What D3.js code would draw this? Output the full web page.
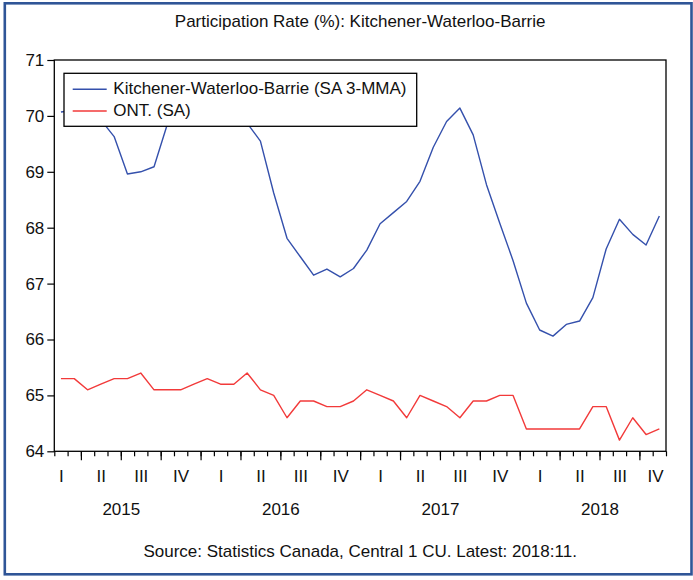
<!DOCTYPE html>
<html>
<head>
<meta charset="utf-8">
<script src="https://cdn.jsdelivr.net/npm/d3@7/dist/d3.min.js"></script>
<style>
  html, body { margin: 0; padding: 0; background: #fff; }
  svg { display: block; }
  text { font-family: "Liberation Sans", Arial, sans-serif; fill: #111; }
</style>
</head>
<body>
<svg id="chart" width="693" height="580"></svg>
<script>
// Monthly observations, February 2015 through November 2018
const firstMonth = "2015-02";
const lastMonth = "2018-11";

// Kitchener-Waterloo-Barrie participation rate, seasonally adjusted 3-month moving average (%)
const kwbRate = [
  70.07, 70.10, 70.05, 69.93, 69.63, 68.96, 69.00, 69.09, 69.85, 70.10, 70.20,
  70.25, 70.20, 70.05, 69.87, 69.55, 68.62, 67.81, 67.48, 67.15, 67.26, 67.12, 67.27,
  67.60, 68.07, 68.27, 68.47, 68.83, 69.44, 69.90, 70.14, 69.66, 68.77, 68.08, 67.41,
  66.65, 66.17, 66.06, 66.27, 66.33, 66.75, 67.62, 68.15, 67.88, 67.69, 68.21
];

// Ontario participation rate, seasonally adjusted (%)
const ontRate = [
  65.3, 65.3, 65.1, 65.2, 65.3, 65.3, 65.4, 65.1, 65.1, 65.1, 65.2,
  65.3, 65.2, 65.2, 65.4, 65.1, 65.0, 64.6, 64.9, 64.9, 64.8, 64.8, 64.9,
  65.1, 65.0, 64.9, 64.6, 65.0, 64.9, 64.8, 64.6, 64.9, 64.9, 65.0, 65.0,
  64.4, 64.4, 64.4, 64.4, 64.4, 64.8, 64.8, 64.2, 64.6, 64.3, 64.4
];

const seriesNames = ["Kitchener-Waterloo-Barrie (SA 3-MMA)", "ONT. (SA)"];
const seriesColors = ["#3450AC", "#F23A3A"];
const yTicks = [64, 65, 66, 67, 68, 69, 70, 71];
const quarterLabels = ["I", "II", "III", "IV"];
const yearLabels = [2015, 2016, 2017, 2018];
const titleText = "Participation Rate (%): Kitchener-Waterloo-Barrie";
const sourceText = "Source: Statistics Canada, Central 1 CU. Latest: 2018:11.";

const parseMonth = d3.timeParse("%Y-%m");
const months = d3.timeMonth.range(parseMonth(firstMonth), d3.timeMonth.offset(parseMonth(lastMonth), 1));

const svg = d3.select("#chart");
const FONT = 17;

// outer frame
svg.append("rect")
  .attr("x", 4.8).attr("y", 3.3).attr("width", 686.7).attr("height", 571)
  .attr("fill", "#fff").attr("stroke", "#2F5597").attr("stroke-width", 2.6);

const plot = { left: 54.3, right: 666, top: 60, bottom: 451.3 };

// month slots are evenly spaced; each observation sits in the middle of its slot
const x = d3.scaleLinear().domain([0, months.length]).range([plot.left, plot.right]);
const y = d3.scaleLinear().domain([64, 71]).range([plot.bottom, plot.top]);
const xMid = i => x(i + 0.5);

svg.append("text")
  .attr("x", (plot.left + plot.right) / 2).attr("y", 27)
  .attr("text-anchor", "middle").style("font-size", FONT + "px")
  .text(titleText);

// y axis
const yAxis = svg.append("g")
  .attr("transform", `translate(${plot.left},0)`)
  .call(d3.axisLeft(y).tickValues(yTicks).tickSize(7).tickPadding(3).tickFormat(d3.format("d")));
yAxis.select(".domain").remove();
yAxis.selectAll("line").attr("stroke", "#000").attr("stroke-width", 1.2);
yAxis.selectAll("text").style("font-size", FONT + "px").style("font-family", null).attr("fill", "#111");

// x axis: minor ticks on every month boundary, longer ones at quarter starts
const allBounds = d3.range(0, months.length + 1);
const quarterStarts = allBounds.filter(i => i < months.length && months[i].getMonth() % 3 === 0);

const xMinor = svg.append("g")
  .attr("transform", `translate(0,${plot.bottom})`)
  .call(d3.axisBottom(x).tickValues(allBounds).tickSize(5).tickFormat(""));
const xMajor = svg.append("g")
  .attr("transform", `translate(0,${plot.bottom})`)
  .call(d3.axisBottom(x).tickValues(quarterStarts).tickSize(9).tickFormat(""));
[xMinor, xMajor].forEach(g => {
  g.select(".domain").remove();
  g.selectAll("line").attr("stroke", "#000").attr("stroke-width", 1.2);
});

// quarter labels centred on the middle month of each quarter
const quarterMids = d3.range(months.length).filter(i => months[i].getMonth() % 3 === 1);
const xQuarter = svg.append("g")
  .attr("transform", `translate(0,${plot.bottom})`)
  .call(d3.axisBottom(x).tickValues(quarterMids.map(i => i + 0.5)).tickSize(0).tickPadding(18.6)
    .tickFormat(v => quarterLabels[Math.floor(months[Math.floor(v)].getMonth() / 3)]));
xQuarter.select(".domain").remove();
xQuarter.selectAll("text").style("font-size", FONT + "px").style("font-family", null).attr("fill", "#111");
// keep the last label inside the plot's right edge
xQuarter.selectAll(".tick").each(function (v) {
  const t = d3.select(this).select("text");
  const half = t.node().getComputedTextLength() / 2;
  const limit = plot.right - 3 - half;
  if (x(v) > limit) t.attr("x", limit - x(v));
});

// year labels centred on the start of July
const yearPos = yearLabels.map(yr => months.findIndex(m => m.getFullYear() === yr && m.getMonth() === 6));
const xYear = svg.append("g")
  .attr("transform", `translate(0,${plot.bottom})`)
  .call(d3.axisBottom(x).tickValues(yearPos).tickSize(0).tickPadding(51.6)
    .tickFormat(v => yearLabels[yearPos.indexOf(v)]));
xYear.select(".domain").remove();
xYear.selectAll("text").style("font-size", FONT + "px").style("font-family", null).attr("fill", "#111");

// series lines
const line = d3.line().x((d, i) => xMid(i)).y(d => y(d));
[kwbRate, ontRate].forEach((vals, k) => {
  svg.append("path")
    .datum(vals)
    .attr("d", line)
    .attr("fill", "none")
    .attr("stroke", seriesColors[k])
    .attr("stroke-width", 1.4)
    .attr("stroke-linejoin", "round");
});

// plot frame
svg.append("rect")
  .attr("x", plot.left).attr("y", plot.top)
  .attr("width", plot.right - plot.left).attr("height", plot.bottom - plot.top)
  .attr("fill", "none").attr("stroke", "#000").attr("stroke-width", 1.3);

// legend
const legend = { x: 64, y: 73.3, w: 352.7, h: 53 };
svg.append("rect")
  .attr("x", legend.x).attr("y", legend.y).attr("width", legend.w).attr("height", legend.h)
  .attr("fill", "#fff").attr("stroke", "#000").attr("stroke-width", 1.3);
const rowY = [89.3, 111];
const textY = [93.5, 115.5];
seriesNames.forEach((name, k) => {
  svg.append("line")
    .attr("x1", 72.7).attr("x2", 106.7).attr("y1", rowY[k]).attr("y2", rowY[k])
    .attr("stroke", seriesColors[k]).attr("stroke-width", 1.4);
  svg.append("text")
    .attr("x", 113.3).attr("y", textY[k]).style("font-size", FONT + "px")
    .text(name);
});

svg.append("text")
  .attr("x", (plot.left + plot.right) / 2).attr("y", 557)
  .attr("text-anchor", "middle").style("font-size", FONT + "px")
  .text(sourceText);
</script>
</body>
</html>
